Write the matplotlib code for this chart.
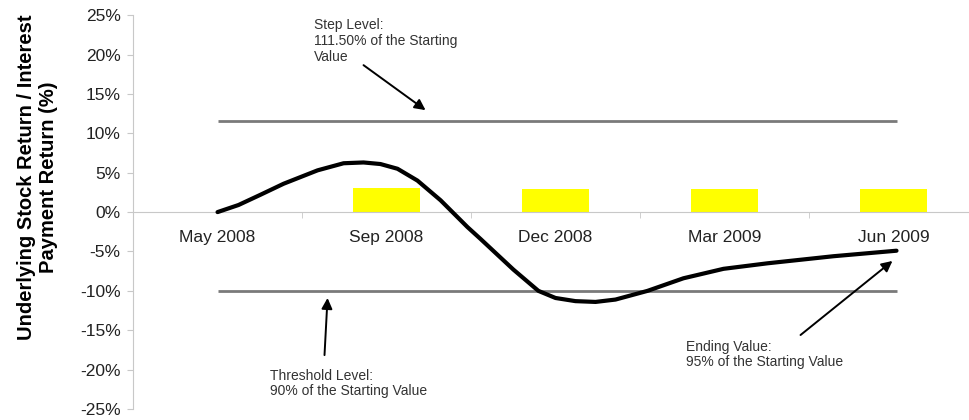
import matplotlib
matplotlib.use("Agg")
import matplotlib.pyplot as plt
import numpy as np

plt.rcParams['font.family'] = ['Liberation Sans', 'DejaVu Sans']

# category axis (one slot per quarter)
months = ["May 2008", "Sep 2008", "Dec 2008", "Mar 2009", "Jun 2009"]

# interest payment bars (%), one per slot after the first
bar_pos = [1, 2, 3, 4]
bar_vals = [3.0, 2.9, 2.9, 2.9]

# underlying stock return path (x in category units, y in %)
path_x = [0.0, 0.124, 0.254, 0.391, 0.592, 0.746, 0.864, 0.964, 1.065, 1.183,
          1.320, 1.479, 1.556, 1.751, 1.899, 2.0, 2.118, 2.237, 2.355, 2.544,
          2.757, 2.994, 3.254, 3.645, 4.018]
path_y = [0.0, 0.9, 2.2, 3.6, 5.3, 6.2, 6.3, 6.1, 5.5, 4.0,
          1.5, -1.9, -3.4, -7.3, -10.0, -10.9, -11.3, -11.4, -11.1, -10.0,
          -8.4, -7.2, -6.5, -5.6, -4.9]

step_level = 11.5
threshold_level = -10.0
level_span = (0.0, 4.018)

fig = plt.figure(figsize=(9.69, 4.2), dpi=100)
ax = fig.add_axes([0.1373, 0.026, 0.8627, 0.938])

ax.bar(bar_pos, bar_vals, width=0.4, color="#FFFF00", zorder=2)
ax.hlines([step_level, threshold_level], level_span[0], level_span[1],
          color="#7a7a7a", linewidth=2.0, zorder=3)
ax.plot(path_x, path_y, color="black", linewidth=3.0, zorder=4,
        solid_capstyle="round", solid_joinstyle="round")

ax.set_xlim(-0.5, 4.447)
ax.set_ylim(-25, 25)

# axes look
for side in ["top", "right"]:
    ax.spines[side].set_visible(False)
ax.spines["left"].set_color("#c8c8c8")
ax.spines["bottom"].set_color("#c8c8c8")
ax.spines["bottom"].set_position(("data", 0))

ax.set_yticks(np.arange(-25, 26, 5))
ax.set_yticklabels([f"{v}%" for v in range(-25, 26, 5)])
ax.tick_params(axis="y", direction="out", length=4, color="#c8c8c8",
               labelsize=12.5, labelcolor="#222222", pad=5)

ax.set_xticks(range(len(months)))
ax.set_xticklabels(months)
ax.set_xticks([0.5, 1.5, 2.5, 3.5], minor=True)
ax.tick_params(axis="x", which="major", length=0, labelsize=12.5,
               labelcolor="#222222", pad=13)
ax.tick_params(axis="x", which="minor", direction="out", length=4,
               color="#c8c8c8")

ax.set_ylabel("Underlying Stock Return / Interest\nPayment Return (%)",
              fontsize=14.5, fontweight="bold", linespacing=1.2)
ax.yaxis.set_label_coords(-0.0897, 0.589)

arrow = dict(arrowstyle="-|>", color="black", lw=1.4, mutation_scale=16,
             shrinkA=0, shrinkB=0)
note = dict(fontsize=10, color="#333333", ha="left", va="top", linespacing=1.15)

ax.annotate("", xy=(1.231, 12.94), xytext=(0.864, 18.65), arrowprops=arrow)
ax.text(0.568, 24.6, "Step Level:\n111.50% of the Starting\nValue", **note)

ax.annotate("", xy=(0.651, -10.9), xytext=(0.633, -18.15), arrowprops=arrow)
ax.text(0.308, -19.85, "Threshold Level:\n90% of the Starting Value", **note)

ax.annotate("", xy=(3.994, -6.2), xytext=(3.45, -15.6), arrowprops=arrow)
ax.text(2.775, -16.2, "Ending Value:\n95% of the Starting Value", **note)

fig.savefig("out.png", dpi=100)
